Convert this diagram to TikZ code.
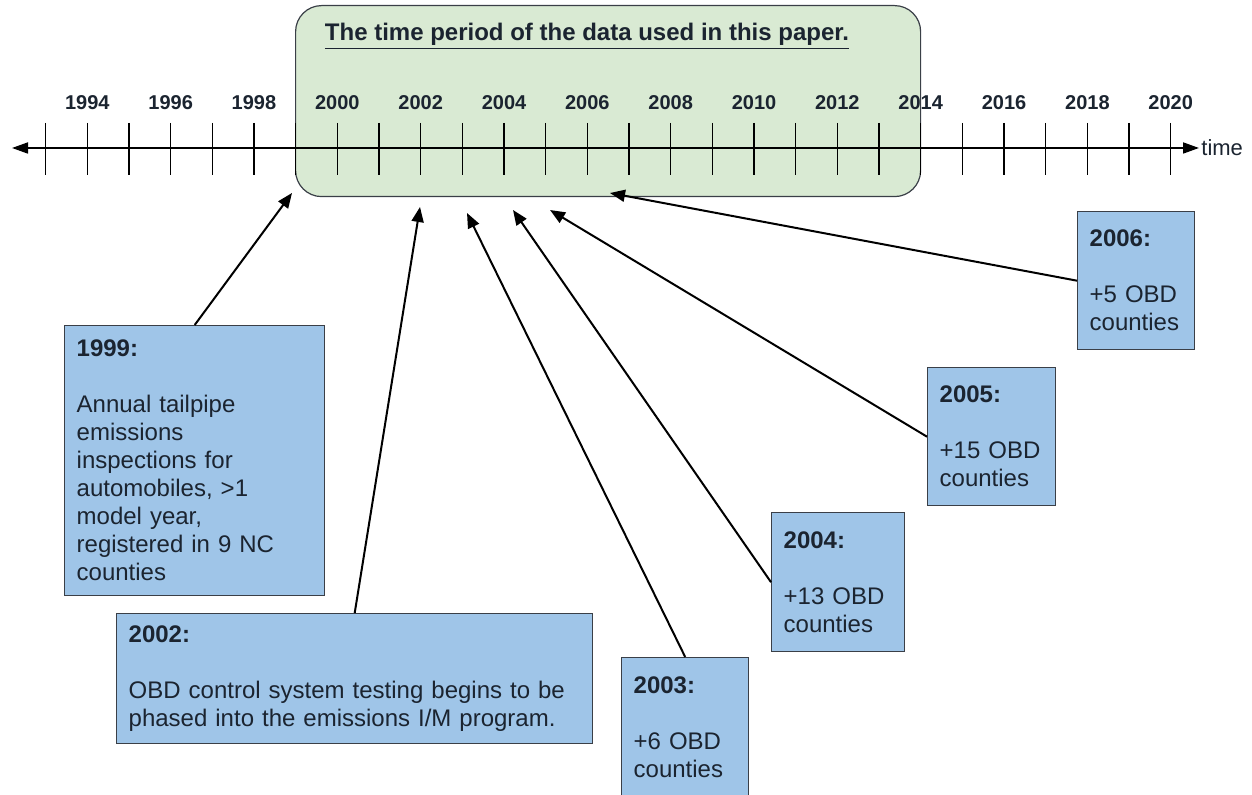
\documentclass[tikz,border=0pt]{standalone}
\usepackage{fontspec}
\setmainfont{Liberation Sans}
\usetikzlibrary{arrows.meta}
\definecolor{periodgreen}{HTML}{D9EAD3}
\definecolor{eventblue}{HTML}{9FC5E8}
\definecolor{edgegray}{HTML}{3A3F47}
\definecolor{inkdark}{HTML}{1B2430}

\begin{document}
\begin{tikzpicture}[x=0.5pt, y=-0.5pt,
  periodbox/.style={draw=edgegray, line width=0.6pt, fill=periodgreen, rounded corners=13pt, anchor=north west, inner sep=0pt},
  eventbox/.style={draw=edgegray, line width=0.7pt, fill=eventblue, anchor=north west, align=left, inner sep=6pt, text=inkdark, font=\fontsize{12}{14}\selectfont},
  eventarrow/.style={line width=1pt, -{Triangle[length=7.5pt,width=6pt]}},
  yearlbl/.style={font=\bfseries\fontsize{10}{12}\selectfont, text=inkdark},
  axisline/.style={line width=0.9pt, {Triangle[length=8pt,width=5.5pt]}-{Triangle[length=8pt,width=5.5pt]}}
]
  \useasboundingbox (0,0) rectangle (1252,795);

  % Period of the data
  \node[periodbox, minimum width=312.5pt, minimum height=95.5pt] (period) at (295,5) {};
  \node[font=\bfseries\fontsize{12}{14}\selectfont, text=inkdark] (title) at (587,36)
    {\underline{The time period of the data used in this paper.}};

  % Parameters
  \def\xzero{87.3}
  \def\yrstep{41.67}

  % Axis
  \coordinate (axisL) at (12,148);
  \node[anchor=west, inner sep=1pt, font=\fontsize{11}{13}\selectfont, text=inkdark] (timelbl) at (1199,148) {time};
  \draw[axisline] (axisL) -- (timelbl.west);

  % Ticks and year labels
  \foreach \yr in {1993,...,2020} {
    \pgfmathsetmacro{\xt}{\xzero+(\yr-1994)*\yrstep}
    \draw[line width=0.6pt] (\xt,123) -- (\xt,175);
  }
  \foreach \yr in {1994,1996,...,2020} {
    \pgfmathsetmacro{\xt}{\xzero+(\yr-1994)*\yrstep}
    \node[yearlbl] (y\yr) at (\xt,103) {\yr};
  }

  % Events
  \node[eventbox, minimum width=130pt, text width=118pt, minimum height=135pt] (b1999) at (64,325)
    {\textbf{1999:}\\[14pt]Annual tailpipe\\ emissions\\ inspections for\\ automobiles, >1\\ model year,\\ registered in 9 NC\\ counties};
  \node[eventbox, minimum width=238pt, text width=226pt, minimum height=64.5pt] (b2002) at (116,613)
    {\textbf{2002:}\\[14pt]OBD control system testing begins to be\\ phased into the emissions I/M program.};
  \node[eventbox, minimum width=63.5pt, text width=51.5pt, minimum height=69.5pt] (b2003) at (621,657)
    {\textbf{2003:}\\[14pt]+6 OBD\\ counties};
  \node[eventbox, minimum width=66.5pt, text width=54.5pt, minimum height=69.5pt] (b2004) at (771,512)
    {\textbf{2004:}\\[14pt]+13 OBD\\ counties};
  \node[eventbox, minimum width=64pt, text width=52pt, minimum height=69pt] (b2005) at (927,367)
    {\textbf{2005:}\\[14pt]+15 OBD\\ counties};
  \node[eventbox, minimum width=58.5pt, text width=46.5pt, minimum height=69pt] (b2006) at (1077,211)
    {\textbf{2006:}\\[14pt]+5 OBD\\ counties};

  % Arrow targets under the axis
  \coordinate (t1999) at (292,193);
  \coordinate (t2002) at (420,207);
  \coordinate (t2003) at (467,213);
  \coordinate (t2004) at (513,210);
  \coordinate (t2005) at (550,210);
  \coordinate (t2006) at (610,193);

  \draw[eventarrow] (b1999.north) -- (t1999);
  \draw[eventarrow] (b2002.north) -- (t2002);
  \draw[eventarrow] (b2003.north) -- (t2003);
  \draw[eventarrow] (b2004.west) -- (t2004);
  \draw[eventarrow] (b2005.west) -- (t2005);
  \draw[eventarrow] (b2006.west) -- (t2006);

\end{tikzpicture}
\end{document}
